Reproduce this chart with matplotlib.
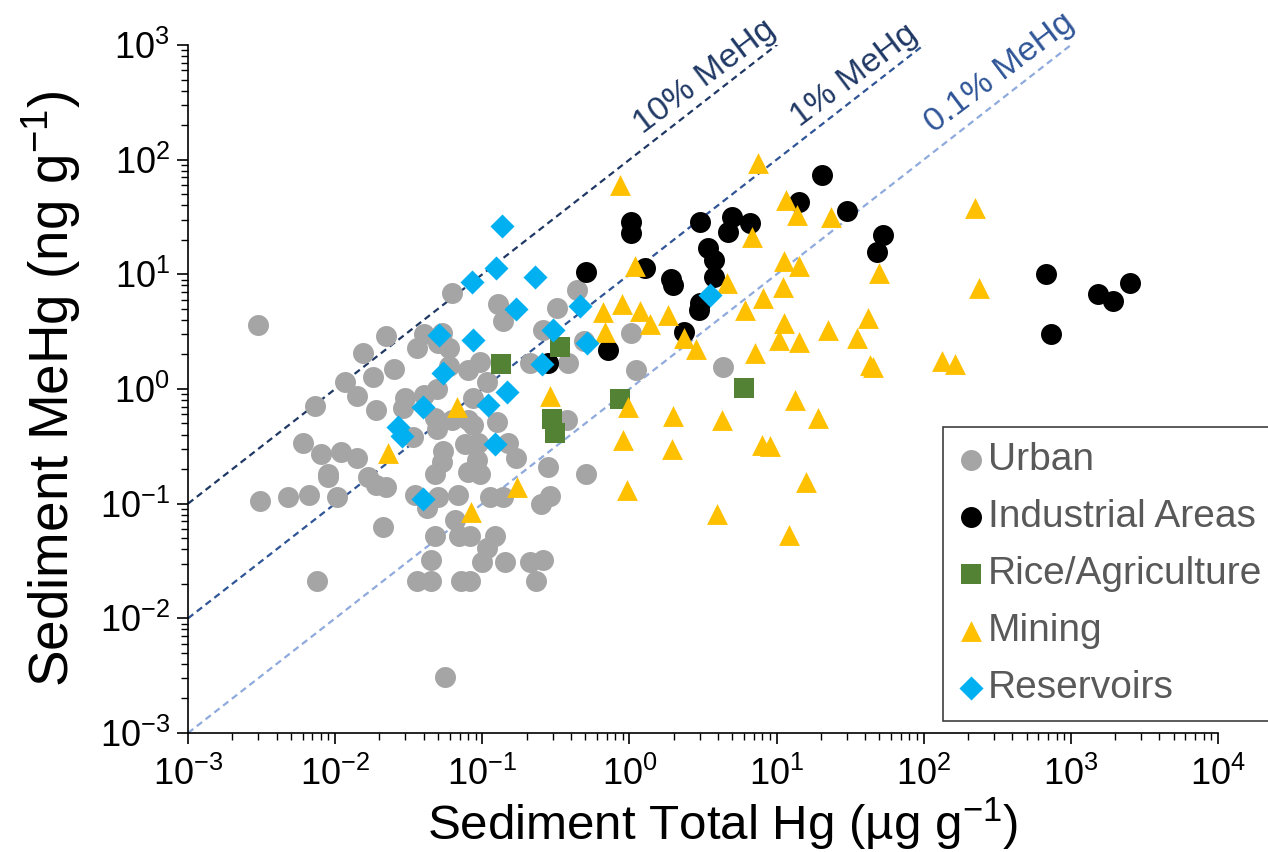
import numpy as np
import matplotlib
matplotlib.use("Agg")
import matplotlib.pyplot as plt
from matplotlib.ticker import LogLocator, FuncFormatter, NullFormatter

plt.rcParams['font.family'] = ['Liberation Sans', 'DejaVu Sans']
plt.rcParams['mathtext.fontset'] = 'custom'
plt.rcParams['mathtext.rm'] = 'Liberation Sans'
plt.rcParams['mathtext.it'] = 'Liberation Sans:italic'
plt.rcParams['mathtext.bf'] = 'Liberation Sans:bold'

# sediment total Hg (ug/g) and MeHg (ng/g) per land-use type
urban_thg = [0.0030, 0.0031, 0.0075, 0.0073, 0.0060, 0.0080, 0.011, 0.014, 0.0089, 0.0090,
             0.0048, 0.0066, 0.0103, 0.0168, 0.019, 0.022, 0.021, 0.022, 0.0155, 0.025,
             0.018, 0.0117, 0.014, 0.019, 0.062, 0.128, 0.139, 0.32, 0.44, 0.040,
             0.036, 0.050, 0.059, 0.053, 0.26, 0.49, 0.059, 0.080, 0.097, 0.21,
             0.38, 0.049, 0.040, 0.087, 0.030, 0.029, 0.048, 0.062, 0.080, 0.125,
             0.375, 0.034, 0.049, 0.087, 0.054, 0.053, 0.048, 0.076, 0.094, 0.092,
             0.080, 0.097, 0.15, 0.17, 0.28, 0.51, 0.050, 0.068, 0.035, 0.042,
             0.113, 0.139, 0.25, 0.29, 0.065, 0.048, 0.069, 0.083, 0.122, 0.107,
             0.045, 0.10, 0.143, 0.21, 0.26, 0.23, 0.036, 0.045, 0.072, 0.083,
             0.056, 1.02, 1.11, 4.3, 0.108]
urban_mehg = [3.6, 0.105, 0.021, 0.71, 0.34, 0.27, 0.28, 0.25, 0.18, 0.17,
              0.115, 0.12, 0.115, 0.17, 0.146, 0.139, 0.062, 2.9, 2.07, 1.49,
              1.26, 1.16, 0.87, 0.66, 6.9, 5.5, 3.9, 5.1, 7.3, 3.0,
              2.3, 2.5, 2.3, 3.1, 3.3, 2.6, 1.6, 1.47, 1.73, 1.68,
              1.68, 1.0, 0.89, 0.83, 0.83, 0.68, 0.56, 0.54, 0.54, 0.52,
              0.54, 0.38, 0.45, 0.49, 0.29, 0.23, 0.18, 0.33, 0.34, 0.24,
              0.19, 0.18, 0.34, 0.25, 0.21, 0.18, 0.115, 0.12, 0.12, 0.091,
              0.115, 0.115, 0.10, 0.117, 0.072, 0.052, 0.052, 0.052, 0.052, 0.041,
              0.032, 0.031, 0.031, 0.031, 0.032, 0.021, 0.021, 0.021, 0.021, 0.021,
              0.0031, 3.1, 1.47, 1.57, 1.15]

industrial_thg = [1.03, 1.03, 0.51, 1.28, 1.92, 1.97, 3.02, 5.0, 4.7, 6.6,
                  3.44, 3.76, 3.78, 3.02, 2.99, 2.35, 0.71, 20.3, 14.1, 30.3,
                  53.1, 48.4, 677, 729, 1538, 1925, 2524, 0.28]
industrial_mehg = [28.8, 22.8, 10.4, 11.4, 9.06, 8.07, 28.8, 31.4, 23.6, 28.2,
                   16.9, 13.3, 9.5, 5.6, 4.9, 3.16, 2.19, 73.5, 43.0, 35.9,
                   22.0, 15.5, 10.1, 3.0, 6.7, 5.9, 8.4, 1.68]

rice_thg = [0.133, 0.337, 0.299, 0.312, 6.04, 0.86]
rice_mehg = [1.65, 2.34, 0.545, 0.411, 1.01, 0.81]

mining_thg = [0.86, 7.5, 11.6, 13.7, 23.3, 6.8, 1.09, 11.2, 14.1, 49.9,
              4.62, 11.0, 0.66, 0.885, 1.18, 1.38, 1.84, 0.68, 2.35, 2.84,
              6.1, 8.05, 11.2, 10.3, 14.1, 22.3, 42.1, 35.1, 7.13, 43.2,
              45.5, 13.3, 19.2, 0.97, 1.97, 4.27, 0.91, 1.94, 7.92, 9.02,
              15.8, 0.957, 3.92, 12.2, 223, 239, 134, 163, 0.023, 0.0676,
              0.173, 0.0838, 0.288]
mining_mehg = [60.1, 92.9, 44.5, 32.9, 31.4, 21.3, 11.7, 13.1, 11.7, 10.2,
               8.4, 7.8, 4.72, 5.5, 4.82, 3.69, 4.41, 3.16, 2.77, 2.22,
               4.89, 6.18, 3.74, 2.67, 2.55, 3.27, 4.14, 2.77, 2.05, 1.62,
               1.57, 0.80, 0.556, 0.70, 0.58, 0.537, 0.359, 0.298, 0.325, 0.319,
               0.156, 0.131, 0.081, 0.053, 37.7, 7.55, 1.77, 1.65, 0.275, 0.70,
               0.141, 0.085, 0.87]

reservoir_thg = [0.137, 0.124, 0.0848, 0.228, 0.169, 0.0508, 0.0869, 0.0543, 0.304, 0.254,
                 0.147, 0.461, 0.518, 0.110, 0.0394, 0.0269, 0.0283, 0.121, 0.0394, 3.53]
reservoir_mehg = [26.4, 11.4, 8.63, 9.42, 4.95, 2.96, 2.67, 1.39, 3.25, 1.65,
                  0.94, 5.25, 2.51, 0.726, 0.70, 0.463, 0.389, 0.331, 0.109, 6.61]

# MeHg as % of total Hg (MeHg ng/g = pct/100 * 1000 * THg ug/g)
ratio_pct = [10, 1, 0.1]
ratio_labels = ['10% MeHg', '1% MeHg', '0.1% MeHg']


def main():
    fig = plt.figure(figsize=(12.68, 8.52), dpi=100)
    ax = fig.add_axes([0.1483, 0.1397, 0.8123, 0.8075])

    # reference lines
    line_colors = ['#203864', '#2F5597', '#8FAADC']
    text_colors = ['#1F3864', '#203864', '#2F5597']
    text_pos = [(0.502, 0.953), (0.647, 0.956), (0.788, 0.959)]
    xs = np.array([1e-3, 1e4])
    for pct, lab, lc, tc, pos in zip(ratio_pct, ratio_labels, line_colors, text_colors, text_pos):
        ax.plot(xs, pct / 100 * 1000 * xs, color=lc, linestyle=(0, (3, 2)), linewidth=1.6, zorder=1)
        ax.text(pos[0], pos[1], lab, transform=ax.transAxes, rotation=37, color=tc,
                fontsize=24.5, ha='center', va='center', clip_on=False)

    ax.scatter(urban_thg, urban_mehg, s=228, marker='o', color='#A5A5A5', linewidths=0,
               label='Urban', zorder=2)
    ax.scatter(industrial_thg, industrial_mehg, s=228, marker='o', color='#000000', linewidths=0,
               label='Industrial Areas', zorder=3)
    ax.scatter(rice_thg, rice_mehg, s=225, marker='s', color='#548235', linewidths=0,
               label='Rice/Agriculture', zorder=4)
    ax.scatter(mining_thg, mining_mehg, s=225, marker='^', color='#FFC000', linewidths=0,
               label='Mining', zorder=5)
    ax.scatter(reservoir_thg, reservoir_mehg, s=150, marker='D', color='#00B0F0', linewidths=0,
               label='Reservoirs', zorder=6)

    ax.set_xscale('log')
    ax.set_yscale('log')
    ax.set_xlim(1e-3, 1e4)
    ax.set_ylim(1e-3, 1e3)

    fmt = FuncFormatter(lambda v, p: r'$10^{%d}$' % int(round(np.log10(v))))
    for axis in (ax.xaxis, ax.yaxis):
        axis.set_major_locator(LogLocator(base=10, numticks=20))
        axis.set_minor_locator(LogLocator(base=10, subs=np.arange(2, 10), numticks=20))
        axis.set_major_formatter(fmt)
        axis.set_minor_formatter(NullFormatter())
    ax.tick_params(which='major', direction='out', length=8, width=1.2, labelsize=26,
                   colors='black')
    ax.tick_params(axis='x', which='major', pad=9)
    ax.tick_params(axis='y', which='major', pad=5)
    ax.tick_params(which='minor', direction='out', length=5, width=1.0)

    for side in ('top', 'right'):
        ax.spines[side].set_visible(False)
    for side in ('left', 'bottom'):
        ax.spines[side].set_linewidth(1.2)

    ax.set_xlabel(r'Sediment Total Hg (µg g$^{-1}$)', fontsize=35.5)
    ax.xaxis.set_label_coords(0.519, -0.092)
    ax.set_ylabel(r'Sediment MeHg (ng g$^{-1}$)', fontsize=39.5)
    ax.yaxis.set_label_coords(-0.102, 0.5)

    leg = ax.legend(loc='upper left', bbox_to_anchor=(0.7437, 0.4988),
                    bbox_transform=fig.transFigure, borderaxespad=0,
                    fontsize=28, frameon=True, fancybox=False, framealpha=1,
                    edgecolor='#404040', handletextpad=0.08, handlelength=0.7,
                    labelspacing=0.54, borderpad=0.38, markerscale=1.0)
    leg.get_frame().set_linewidth(1.2)
    for t in leg.get_texts():
        t.set_color('#595959')

    fig.savefig('out.png', dpi=100)


if __name__ == '__main__':
    main()
